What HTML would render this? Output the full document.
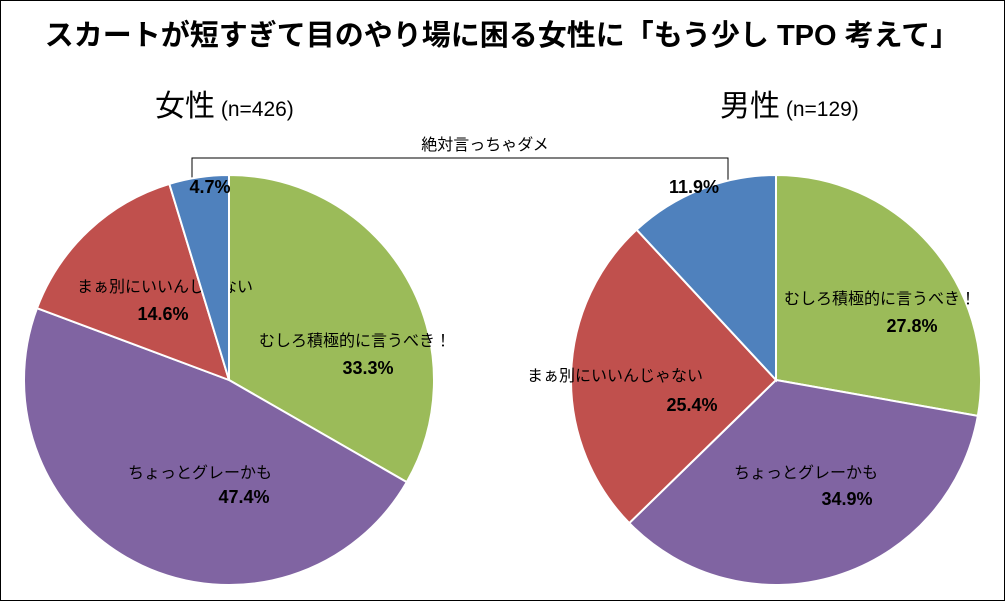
<!DOCTYPE html>
<html><head><meta charset="utf-8"><style>
body{margin:0;background:#fff;}
svg text{font-family:"Liberation Sans","Noto Sans CJK JP",sans-serif;}
</style></head><body>
<svg width="1005" height="601" viewBox="0 0 1005 601">
<rect x="0.5" y="0.5" width="1004" height="600" fill="#fff" stroke="#000" stroke-width="1"/>
<text x="502" y="45" text-anchor="middle" font-size="29" font-weight="bold">スカートが短すぎて目のやり場に困る女性に「もう少し TPO 考えて」</text>
<text x="155" y="116" font-size="30">女性<tspan font-size="21"> (n=426)</tspan></text>
<text x="720" y="116" font-size="30">男性<tspan font-size="21"> (n=129)</tspan></text>
<path d="M192,190 V158 H728 V190" fill="none" stroke="#000" stroke-width="1"/>
<text x="485" y="150" text-anchor="middle" font-size="16">絶対言っちゃダメ</text>
<g id="pies"></g>
</svg>
<script>
const categories=["むしろ積極的に言うべき！","ちょっとグレーかも","まぁ別にいいんじゃない","絶対言っちゃダメ"];
const femaleValues=[33.3,47.4,14.6,4.7];
const maleValues=[27.8,34.9,25.4,11.9];
const colors=["#9BBB59","#8064A2","#C0504D","#4F81BD"];
const femaleLayout=[[355,346,368,374],[200,478,244,503],[165,292,163,320],[0,0,210,193]];
const maleLayout=[[880,304,912,332],[806,478,847,505],[615,381,692,411],[0,0,694,193]];
const NS="http://www.w3.org/2000/svg";
const g=document.getElementById('pies');
function mk(t,a){const e=document.createElementNS(NS,t);for(const k in a)e.setAttribute(k,a[k]);return e;}
function pie(vals,cx,cy,r,prefix,lay){
  const tot=vals.reduce((a,b)=>a+b,0);let a0=0;
  vals.forEach((v,i)=>{
    const a1=a0+v/tot*2*Math.PI;
    const x0=cx+r*Math.sin(a0),y0=cy-r*Math.cos(a0),x1=cx+r*Math.sin(a1),y1=cy-r*Math.cos(a1);
    const p=mk('path',{d:`M${cx},${cy}L${x0},${y0}A${r},${r} 0 ${a1-a0>Math.PI?1:0} 1 ${x1},${y1}Z`,fill:colors[i],stroke:'#fff','stroke-width':2});
    
    
    g.appendChild(p);
    const L=lay[i];
    if(i<3){
      const t=mk('text',{x:L[0],y:L[1],'text-anchor':'middle','font-size':16});
      t.textContent=categories[i];
      
      
      g.appendChild(t);
    }
    const t2=mk('text',{x:L[2],y:L[3],'text-anchor':'middle','font-size':18,'font-weight':'bold'});
    t2.textContent=v.toFixed(1)+'%';
    
    
    g.appendChild(t2);
    a0=a1;
  });
}
pie(femaleValues,229,380,205,'female',femaleLayout);
pie(maleValues,776,380,205,'male',maleLayout);
</script>
</body></html>
